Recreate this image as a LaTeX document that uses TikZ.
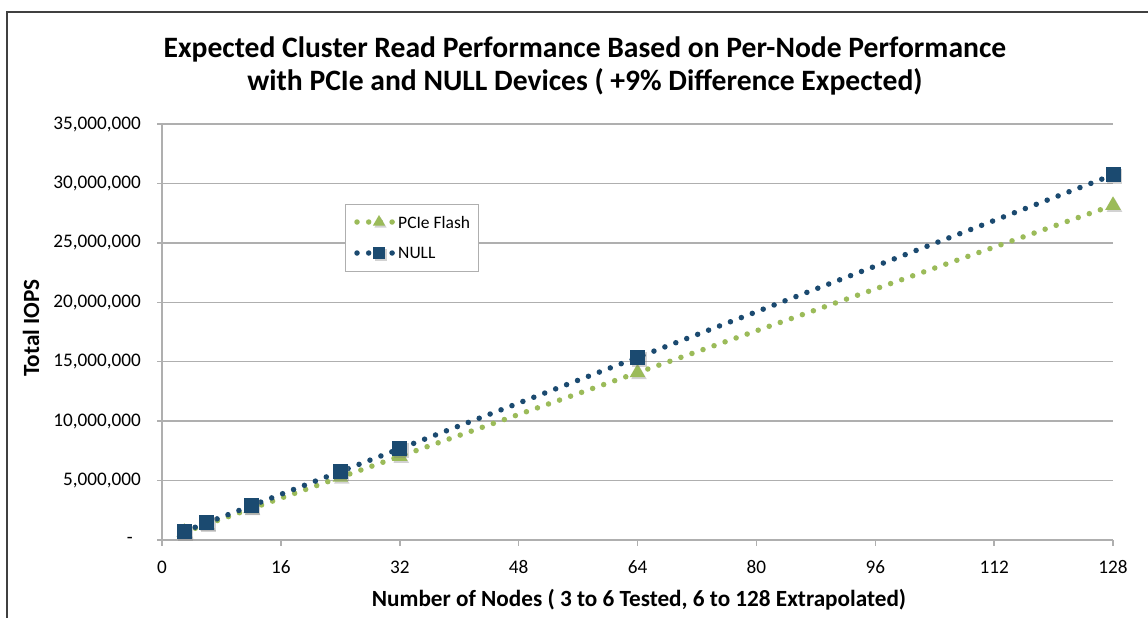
\documentclass[tikz,border=0pt]{standalone}
\usepackage{fontspec}
\setmainfont{Carlito}
\usetikzlibrary{shapes.geometric,shadows}
\definecolor{navy}{RGB}{27,74,112}
\definecolor{olive}{RGB}{155,187,89}
\definecolor{gridc}{RGB}{175,175,175}
\definecolor{framec}{RGB}{64,64,64}
\begin{document}
\begin{tikzpicture}[x=1pt,y=-1pt,
  gridline/.style={draw=gridc,line width=1.5pt},
  ticklab/.style={font=\fontsize{19.2}{22}\selectfont,inner sep=0pt},
  axtitle/.style={font=\fontsize{23.2}{26}\selectfont\bfseries,inner sep=0pt},
  sq/.style={rectangle,minimum size=15pt,inner sep=0pt,fill=navy,
    drop shadow={shadow xshift=1.5pt,shadow yshift=-2pt,opacity=0.35}},
  tri/.style={regular polygon,regular polygon sides=3,minimum size=18pt,inner sep=0pt,fill=olive,
    drop shadow={shadow xshift=1.5pt,shadow yshift=-2pt,opacity=0.35}},
  dotline/.style={line width=5.5pt,line cap=round,dash pattern=on 0pt off 11.7pt},
  legtext/.style={font=\fontsize{17.5}{20}\selectfont,anchor=west,inner sep=0pt}]
\useasboundingbox (0,0) rectangle (1148,618);
\fill[white] (0,0) rectangle (1148,618);
% outer frame
\draw[framec,line width=1.5pt] (7,618) -- (7,12) -- (1148,12);
% title
\node[font=\fontsize{29.6}{33}\selectfont\bfseries,align=center] (title) at (585,66)
  {Expected Cluster Read Performance Based on Per-Node Performance\\with PCIe and NULL Devices ( +9\% Difference Expected)};
% gridlines and y ticks
\foreach \v in {0,5,...,35}
  \draw[gridline] (157,{540-\v*11.885714}) -- (1113,{540-\v*11.885714});
% y axis
\draw[gridline] (162,124) -- (162,546);
% x ticks
\foreach \i in {16,32,...,128}
  \draw[gridline] ({162+\i*7.4296875},540) -- ({162+\i*7.4296875},546);
% x labels
\foreach \i in {0,16,...,128}
  \node[ticklab] at ({162+\i*7.4296875},567) {\i};
% y labels
\node[ticklab,anchor=east] at (133,540) {-};
\foreach \v/\t in {5/{5,000,000},10/{10,000,000},15/{15,000,000},20/{20,000,000},25/{25,000,000},30/{30,000,000},35/{35,000,000}}
  \node[ticklab,anchor=east] at (141,{540-\v*11.885714}) {\t};
% axis titles
\node[axtitle] (xt) at (639,600) {Number of Nodes ( 3 to 6 Tested, 6 to 128 Extrapolated)};
\node[axtitle,rotate=90] (yt) at (31,328) {Total IOPS};
% data
\begin{scope}[shift={(162,540)}]
\begin{scope}[x=7.4296875pt,y=11.885714pt]
  % PCIe flash
  \foreach \n/\k in {3/p1,6/p2,12/p3,24/p4,32/p5,64/p6,128/p7}
    \coordinate (\k c) at (\n,{0.22*\n});
  \draw[olive,dotline] (p1c) -- (p2c) -- (p3c) -- (p4c) -- (p5c) -- (p6c) -- (p7c);
  \foreach \k in {p1,p2,p3,p4,p5,p6,p7}
    \node[tri] (\k) at (\k c) {};
  % NULL
  \foreach \n/\k in {3/q1,6/q2,12/q3,24/q4,32/q5,64/q6,128/q7}
    \coordinate (\k c) at (\n,{0.24*\n});
  \draw[navy,dotline] (q1c) -- (q2c) -- (q3c) -- (q4c) -- (q5c) -- (q6c) -- (q7c);
  \foreach \k in {q1,q2,q3,q4,q5,q6,q7}
    \node[sq] (\k) at (\k c) {};
\end{scope}
\end{scope}
% legend
\node[draw=gridc,fill=white,line width=1pt,minimum width=133pt,minimum height=67pt,inner sep=0pt] (legend) at (411.5,237.5) {};
\coordinate (la1) at (357,222); \coordinate (lb1) at (393,222);
\coordinate (la2) at (357,253); \coordinate (lb2) at (393,253);
\draw[olive,dotline] (la1) -- (lb1);
\node[tri,minimum size=14pt,drop shadow={opacity=0}] (lt) at (379,222) {};
\node[legtext] (ltext1) at (398,222) {PCIe Flash};
\draw[navy,dotline] (la2) -- (lb2);
\node[sq,minimum size=12pt,drop shadow={opacity=0}] (ls) at (379,253) {};
\node[legtext] (ltext2) at (398,253) {NULL};
\end{tikzpicture}
\end{document}
